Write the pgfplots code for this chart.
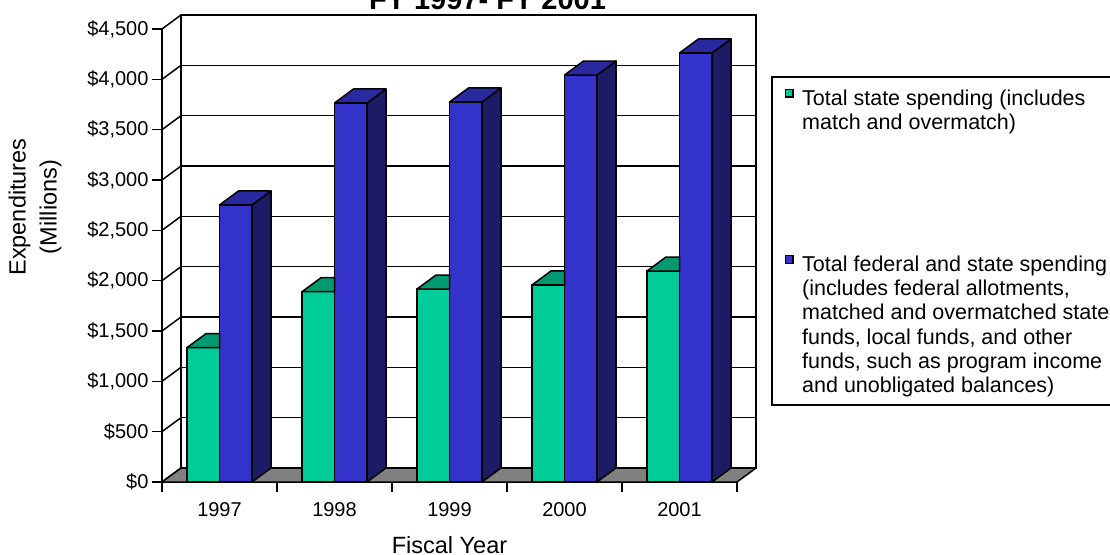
\documentclass[border=0pt]{standalone}
\usepackage{pgfplots}
\pgfplotsset{compat=1.18}
\usepackage{pgfplotstable}
\usepackage{fontspec}
\setmainfont{Liberation Sans}
\definecolor{gfront}{RGB}{0,204,153}
\definecolor{gtop}{RGB}{0,153,112}
\definecolor{bfront}{RGB}{51,51,204}
\definecolor{btop}{RGB}{41,41,160}
\definecolor{bside}{RGB}{28,28,102}
\definecolor{floorgray}{RGB}{128,128,128}
\pgfdeclareplotmark{nothing}{}
\pgfplotsset{
  square legend/.style={legend image code/.code={%
    \path[draw=none, fill=none] (0pt,0pt) rectangle (24pt,1pt);
    \draw[##1, line width=1.3pt] (9.15pt,1.15pt) rectangle (16.85pt,8.85pt);}},
}
\newcommand{\legtext}[1]{\raisebox{0pt}[\height][0pt]{\parbox[t]{330pt}{#1}}}

\pgfplotstableread{
x    state total
0.5  1335  2752
1.5  1890  3765
2.5  1917  3775
3.5  1957  4043
4.5  2096  4262
}\spend

\begin{document}
\begin{tikzpicture}
\begin{axis}[
  at={(162pt,72pt)}, anchor=south west,
  scale only axis, width=575pt, height=453pt,
  xmin=0, xmax=5, ymin=0, ymax=4500,
  clip=false,
  axis x line*=bottom, axis y line*=left,
  axis line style={line width=1.5pt, black, -},
  tick align=outside,
  major tick length=10pt,
  tick style={black, line width=1.5pt},
  xtick={0,1,2,3,4,5}, xticklabels={},
  extra x ticks={0.5,1.5,2.5,3.5,4.5},
  extra x tick labels={1997,1998,1999,2000,2001},
  extra x tick style={major tick length=0pt, tick label style={yshift=-17pt}},
  ytick={0,500,...,4500},
  yticklabels={{\$0},{\$500},{\$1,000},{\$1,500},{\$2,000},{\$2,500},{\$3,000},{\$3,500},{\$4,000},{\$4,500}},
  tick label style={font=\fontsize{20}{24}\selectfont},
  xlabel={Fiscal Year},
  xlabel style={at={(axis description cs:0.5,0)}, anchor=base, yshift=-71pt, font=\fontsize{23.5}{28}\selectfont},
  ylabel={Expenditures\\(Millions)},
  ylabel style={at={(axis description cs:-0.2209,0.607)}, anchor=center, align=center, font=\fontsize{23.5}{31}\selectfont},
  legend cell align=left,
  legend style={at={(axis description cs:1.0609,0.8797)}, anchor=north west, draw=none, fill=none, inner sep=4pt, font=\fontsize{21.5}{24.3}\selectfont, row sep=145pt},
]
% back wall
\pgfplotsinvokeforeach{500,1000,...,4000}{
  \draw[line width=1.5pt] ([xshift=19pt,yshift=14pt]axis cs:0,#1) -- ([xshift=19pt,yshift=14pt]axis cs:5,#1);
}
\draw[line width=1.5pt] ([xshift=19pt,yshift=14pt]axis cs:0,0) rectangle ([xshift=19pt,yshift=14pt]axis cs:5,4500);
% left wall diagonals
\pgfplotsinvokeforeach{0,500,...,4500}{
  \draw[line width=1.5pt] (axis cs:0,#1) -- ([xshift=19pt,yshift=14pt]axis cs:0,#1);
}
% floor
\filldraw[fill=floorgray, draw=black, line width=1.5pt, line join=round] (axis cs:0,0) -- (axis cs:5,0) -- ([xshift=19pt,yshift=14pt]axis cs:5,0) -- ([xshift=19pt,yshift=14pt]axis cs:0,0) -- cycle;

% state spending (front faces)
\addplot[ybar, bar width=32.5pt, bar shift=-16.25pt, fill=gfront, draw=black, line width=1.5pt, square legend]
  table[x=x, y=state]{\spend};
\addlegendentry{\legtext{Total state spending (includes\\match and overmatch)}}
% state spending (visible part of top faces)
\addplot[forget plot, scatter, only marks, mark=nothing,
  scatter/@pre marker code/.code={%
    \filldraw[fill=gtop, draw=black, line width=1.5pt, line join=round] (-32.5pt,0pt) -- (0pt,0pt) -- (0pt,14pt) -- (-13.5pt,14pt) -- cycle;
  },
  scatter/@post marker code/.code={}]
  table[x=x, y=state]{\spend};

% total spending (front faces)
\addplot[ybar, bar width=32.5pt, bar shift=16.25pt, fill=bfront, draw=black, line width=1.5pt, square legend]
  table[x=x, y=total]{\spend};
\addlegendentry{\legtext{Total federal and state spending\\(includes federal allotments,\\matched and overmatched state\\funds, local funds, and other\\funds, such as program income\\and unobligated balances)}}
% total spending (side and top faces)
\addplot[forget plot, scatter, only marks, mark=nothing,
  visualization depends on={\thisrow{total} \as \val},
  scatter/@pre marker code/.code={%
    \pgfmathsetlengthmacro{\hneg}{-\val*0.1006667}%
    \pgfmathsetlengthmacro{\hb}{14-\val*0.1006667}%
    \filldraw[fill=bside, draw=black, line width=1.5pt, line join=round] (32.5pt,0pt) -- (51.5pt,14pt) -- (51.5pt,\hb) -- (32.5pt,\hneg) -- cycle;
    \filldraw[fill=btop, draw=black, line width=1.5pt, line join=round] (0pt,0pt) -- (32.5pt,0pt) -- (51.5pt,14pt) -- (19pt,14pt) -- cycle;
  },
  scatter/@post marker code/.code={}]
  table[x=x, y=total]{\spend};
\end{axis}
% legend frame
\draw[line width=1.5pt] (772pt,477pt) rectangle (1125pt,149pt);
\node[font=\bfseries\fontsize{29}{33}\selectfont, anchor=base] at (487.5pt,544pt) {FY 1997- FY 2001};
\pgfresetboundingbox
\useasboundingbox (0pt,0pt) rectangle (1110pt,554pt);
\end{tikzpicture}
\end{document}
